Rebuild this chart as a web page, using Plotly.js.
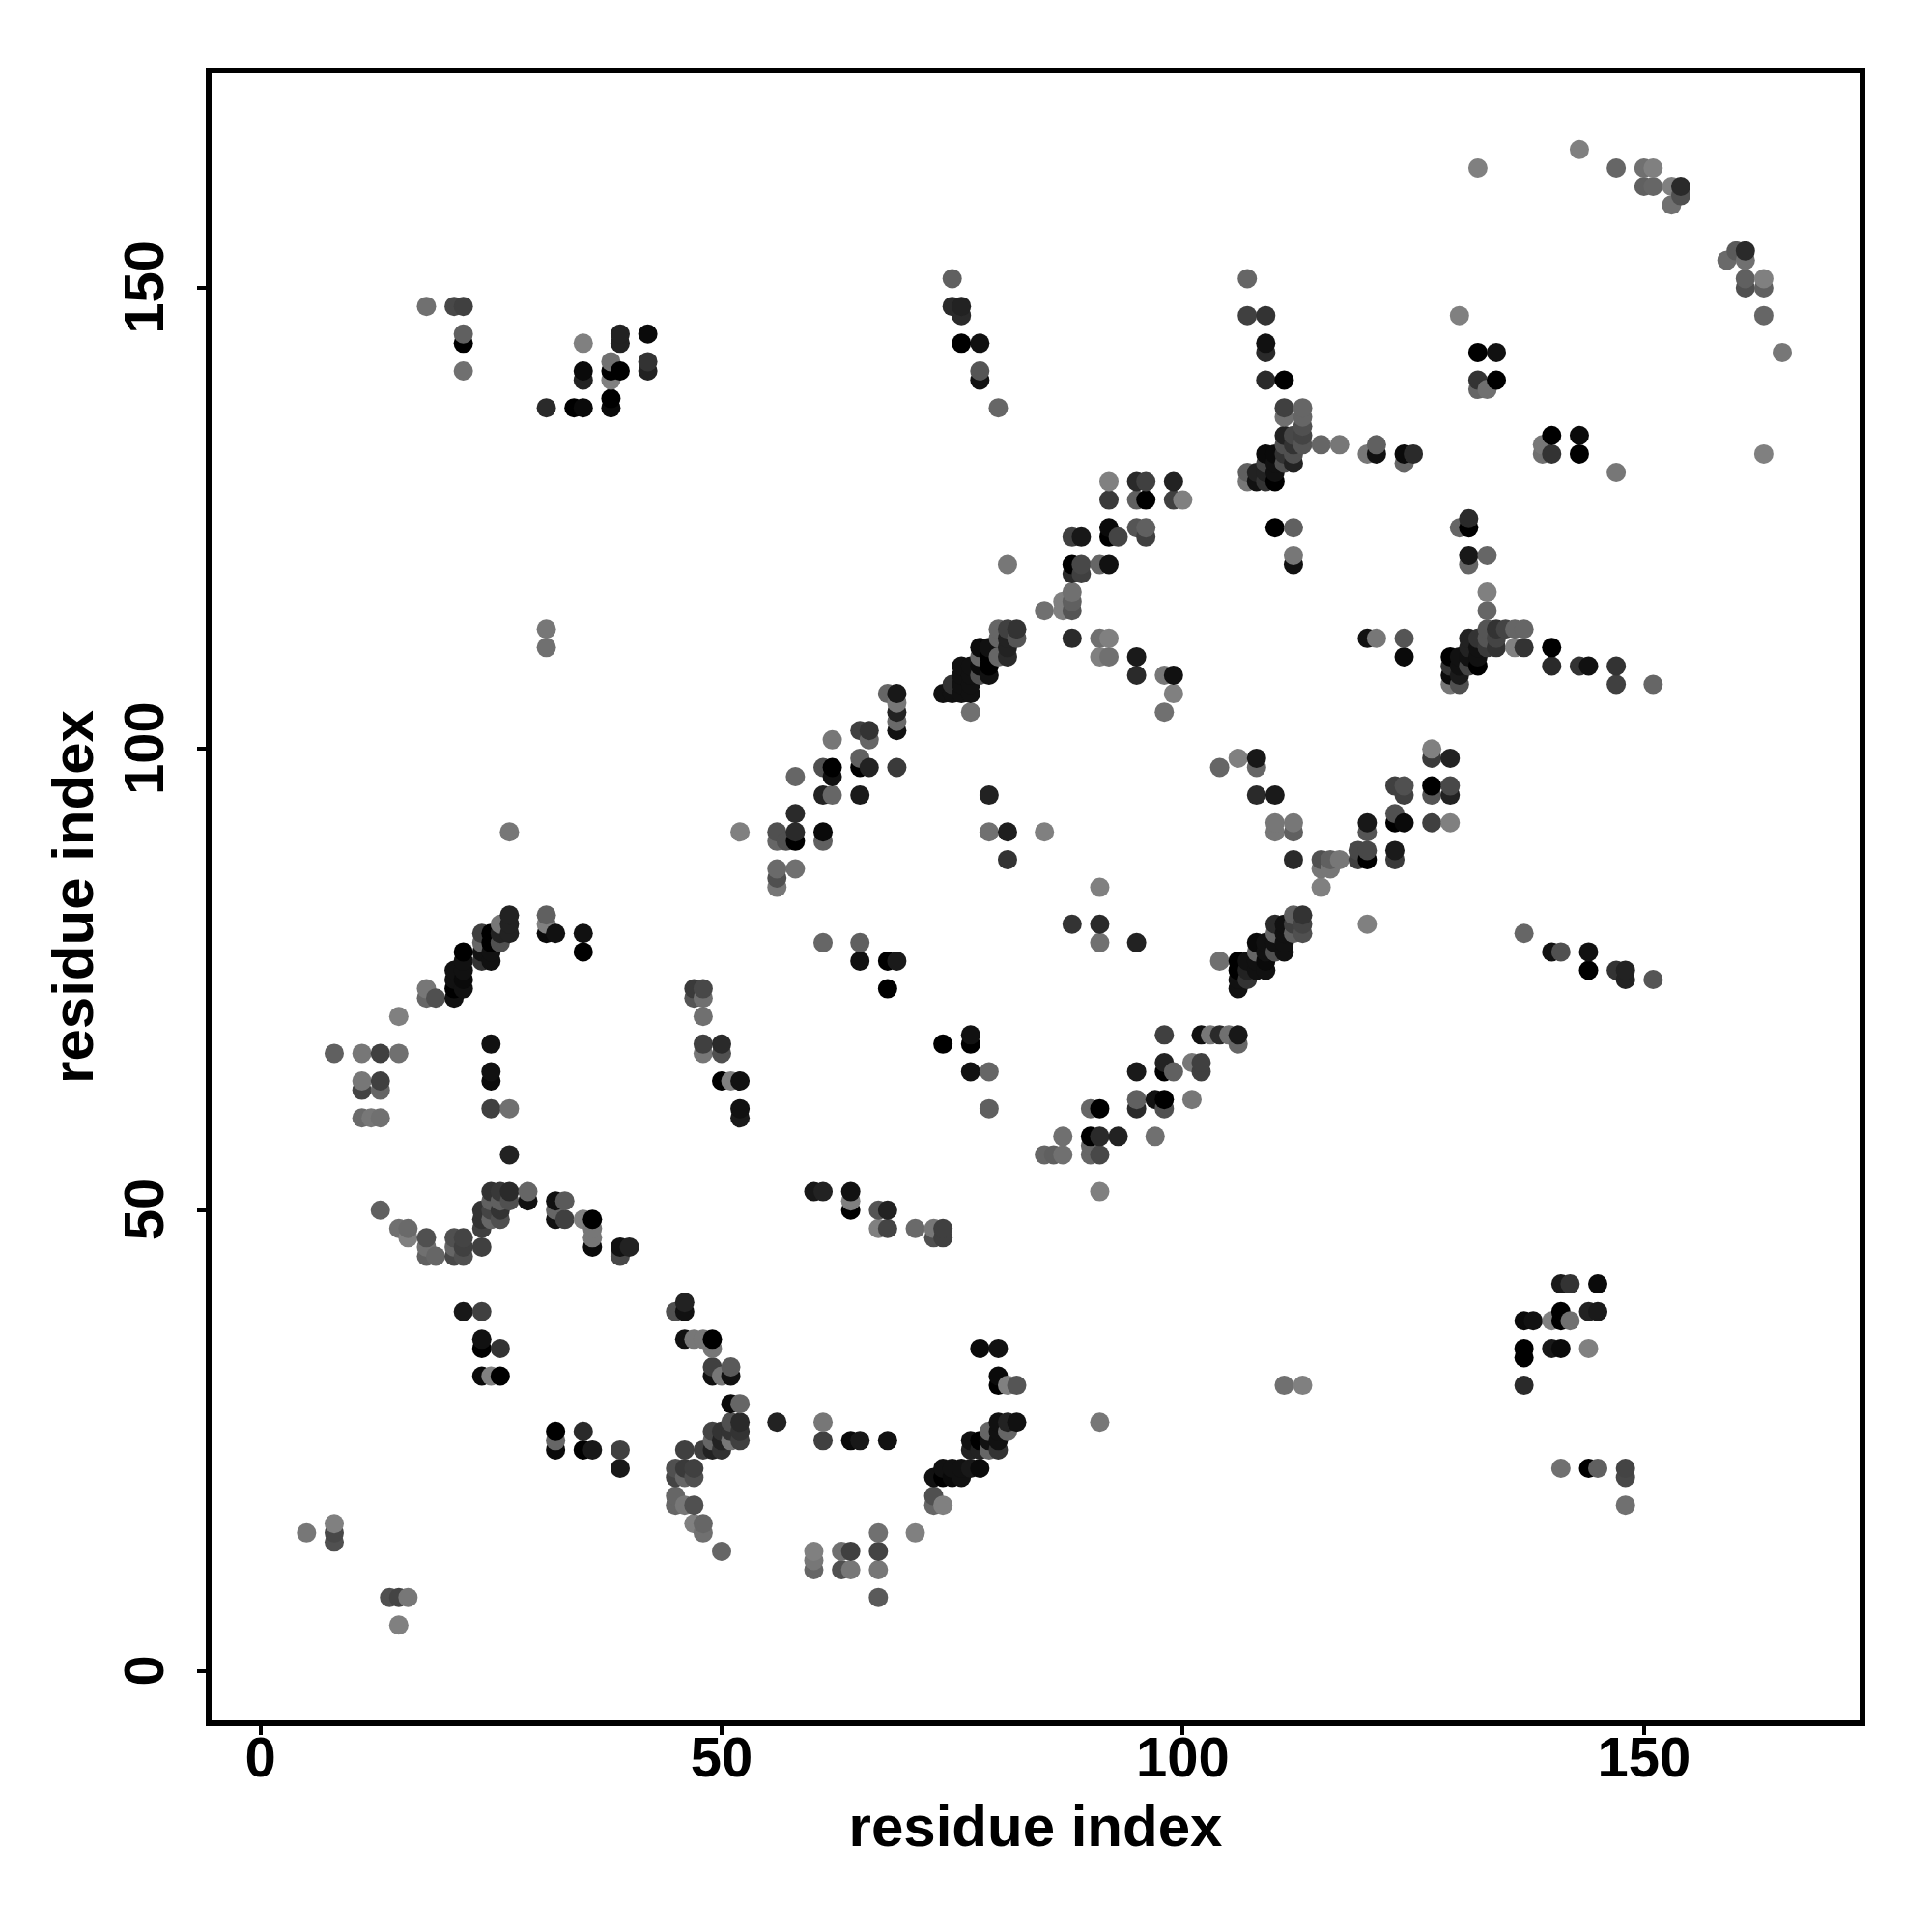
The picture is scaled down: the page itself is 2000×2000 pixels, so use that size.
<!DOCTYPE html>
<html>
<head>
<meta charset="utf-8">
<script src="https://cdn.plot.ly/plotly-3.0.1.min.js"></script>
<style>html,body{margin:0;padding:0;background:#fff}</style>
</head>
<body>
<div id="chart" style="width:2000px;height:2000px"></div>
<script>
// Each contact is [residue i, residue j, grey level of the dot]
const contactsLowLeft = [
[13,50,96],[15,48,112],[16,48,106],[16,47,128],[18,47,80],[18,46,112],[18,45,96],[19,45,102],
[21,47,80],[22,47,68],[21,46,102],[22,46,64],[21,45,72],[22,45,80],[24,46,64],[24,48,64],[24,49,51],[24,50,51],
[25,52,51],[26,52,56],[27,52,42],[25,51,96],[26,51,96],[27,51,80],[25,50,68],[26,50,51],[25,49,102],[26,49,80],
[29,52,102],[29,51,17],[32,51,17],[33,51,90],[32,50,102],[32,49,17],[33,49,64],[35,49,128],[36,49,0],[36,48,119],[36,47,119],[36,46,10],
[39,46,17],[40,46,34],[39,45,72],[27,56,34],
[22,39,24],[24,39,64],[24,36,17],[24,35,0],[26,35,51],[24,32,10],[25,32,128],[26,32,0],
[46,40,34],[45,39,80],[46,39,17],[46,36,17],[47,36,119],[48,36,119],[49,36,0],[49,35,119],
[49,33,64],[51,33,90],[49,32,17],[50,32,119],[51,32,17],[51,29,10],[52,29,102],[56,27,34],
[52,27,42],[51,27,80],[52,26,51],[51,26,51],[50,26,51],[49,26,68],[52,25,64],[51,25,119],[50,25,34],[49,25,102],
[48,24,64],[49,24,34],[50,24,51],[46,24,64],[45,22,80],[46,22,58],[47,22,64],[45,21,68],[46,21,102],[47,21,80],
[45,19,102],[45,18,102],[46,18,119],[47,18,80],[47,16,128],[48,16,102],[48,15,112],[50,13,102],
[5,15,119],[8,16,128],[8,15,72],[8,14,80],[14,8,80],[15,8,68],[16,8,119],[15,5,128],
[32,26,0],[32,25,102],[32,24,10],[35,26,42],[35,24,0],[36,24,24],[39,24,64],[39,22,24]
];
const contactsLowMiddle = [
[60,52,24],[61,52,34],[64,52,17],[64,51,128],[64,50,0],[67,50,85],[68,50,34],[67,48,128],[68,48,68],[71,48,106],
[73,48,119],[74,48,64],[73,47,80],[74,47,64],[91,52,128],
[61,27,119],[61,25,64],[64,25,10],[65,25,24],[68,25,17],[78,35,10],[80,35,17],[80,32,10],[80,31,0],[81,31,128],[82,31,85],
[91,27,119],[111,31,112],[113,31,128],
[80,27,17],[81,27,34],[82,27,17],[79,26,102],[80,26,17],[81,26,102],[77,25,17],[78,25,0],[79,25,17],[80,25,17],
[77,24,34],[78,24,34],[79,24,102],[80,24,51],[74,22,17],[75,22,17],[76,22,17],[77,22,24],[78,22,10],
[73,21,17],[74,21,0],[75,21,10],[76,21,17],[73,19,80],[73,18,102],[74,18,128],
[67,15,112],[71,15,128],[60,13,128],[63,13,112],[64,13,64],[67,13,68],[60,12,119],[60,11,102],[63,11,80],[64,11,119],[67,11,119],[67,8,90]
];
const contactsLowRight = [
[141,42,26],[142,42,51],[145,42,10],[141,39,0],[144,39,34],[145,39,26],[137,38,10],[138,38,17],[140,38,128],[141,38,0],[142,38,112],
[137,35,0],[137,34,0],[140,35,24],[141,35,10],[144,35,128],[137,31,42],[141,22,112],[144,22,0],[145,22,96],[148,22,68],[148,21,72],[148,18,112]
];
const contactsMidLeft = [
[31,113,119],[31,111,112],[27,91,119],[52,91,128],[56,91,80],[56,90,102],[57,90,80],[56,87,106],[56,86,80],[56,85,119],
[27,82,34],[27,81,34],[27,80,34],[26,81,119],[26,80,34],[26,79,80],[31,82,96],[31,81,128],[31,80,10],[32,80,17],[35,80,17],[35,78,0],
[24,80,64],[24,79,102],[24,78,17],[24,77,51],[25,80,0],[25,79,0],[25,78,17],[25,77,17],
[22,78,0],[22,77,17],[22,76,17],[22,75,10],[22,74,17],[21,76,17],[21,75,17],[21,74,0],[21,73,17],
[18,74,119],[18,73,102],[19,73,80],[15,71,128],[8,67,96],[11,67,119],[13,67,64],[15,67,112],
[11,64,119],[13,64,64],[11,63,68],[13,63,102],[11,60,106],[12,60,119],[13,60,112],
[25,68,17],[25,65,17],[25,64,10],[25,61,64],[27,61,112],
[47,74,58],[48,74,72],[47,73,85],[48,73,112],[48,71,112],[48,68,64],[50,68,42],[48,67,119],[50,67,80],
[50,64,0],[51,64,128],[52,64,17],[52,61,17],[52,60,26]
];
const contactsMidMiddle = [
[58,97,102],[61,98,80],[62,98,0],[62,97,17],[61,95,34],[62,95,102],[65,95,26],[65,99,96],[65,98,0],[66,98,34],[69,98,58],
[62,101,119],[65,102,64],[66,102,51],[66,101,102],[68,106,102],[69,106,24],[69,105,119],[69,104,34],[69,103,106],[69,102,17],
[58,93,42],[58,91,42],[58,90,0],[61,91,10],[61,90,96],[58,87,112],
[79,95,34],[79,91,112],[81,91,30],[85,91,128],[81,88,51],
[61,79,102],[65,79,96],[65,77,17],[68,77,0],[69,77,26],[68,74,0],[74,68,0],[77,69,17],[77,68,0],[77,65,17],[79,65,102],[79,61,96],
[88,112,42],[91,112,112],[92,112,128],[91,110,128],[92,110,112],[95,110,26],[95,108,42],[98,108,119],[99,108,17],[99,106,128],[98,104,112],[77,104,112],
[104,98,102],[106,99,128],[108,99,24],[108,98,102],[108,95,42],[110,95,26],[110,92,119],[112,92,119],[110,91,119],[112,91,96],[112,88,42],
[115,88,80],[116,88,96],[117,88,119],[115,87,119],[116,87,119],[115,85,128],[91,85,128],[88,81,51],[91,81,42],[91,79,112],[95,79,34],[104,77,112],
[82,113,51],[81,113,64],[80,113,102],[82,112,85],[81,112,34],[80,112,102],[81,111,34],[81,110,42],[80,110,102],
[79,111,17],[78,111,10],[79,110,0],[78,110,102],[79,109,0],[78,109,10],[79,108,17],[78,108,80],
[77,109,17],[76,109,17],[76,108,17],[77,108,17],[77,107,17],[76,107,17],[75,107,51],[77,106,17],[76,106,17],[75,106,17],[74,106,17],
[113,82,51],[112,82,96],[113,81,68],[113,80,80],[112,80,96],[112,81,64],[110,81,42],[111,81,17],[111,80,17],[110,80,102],[111,79,17],[110,79,17],[111,78,17],[110,78,80],
[108,79,10],[109,79,17],[108,78,102],[109,78,17],[108,77,17],[109,77,10],[108,76,17],[109,76,17],
[106,77,0],[107,77,17],[106,76,0],[107,76,34],[106,75,17],[107,75,51],[106,74,17],
[98,69,64],[102,69,17],[103,69,119],[104,69,42],[105,69,112],[106,69,24],[106,68,102],
[98,66,34],[98,65,0],[99,65,96],[95,65,26],[101,66,119],[102,66,64],[102,65,64],
[95,62,96],[95,61,42],[97,62,17],[98,62,0],[98,61,80],[101,62,119],[90,61,102],[91,61,0],
[87,58,112],[90,58,0],[91,58,42],[93,58,34],[97,58,112],[90,57,102],[90,56,102],[91,56,72],[85,56,102],[86,56,96],[87,56,112]
];
const contactsMidRight = [
[120,112,17],[121,112,119],[124,112,85],[124,110,10],[140,111,0],[140,109,42],[143,109,51],[144,109,17],[147,109,51],[147,107,64],[151,107,102],[136,111,128],[137,111,51],
[133,113,85],[134,113,51],[135,113,68],[136,113,102],[137,113,102],
[131,112,34],[132,112,51],[133,112,85],[134,112,68],[131,111,34],[132,111,17],[133,111,58],[134,111,51],
[129,110,0],[130,110,17],[131,110,17],[132,110,17],[129,109,51],[130,109,17],[131,109,68],[132,109,0],[129,108,10],[130,108,26],[129,107,119],[130,107,80],
[127,100,128],[127,99,58],[129,99,34],[123,96,64],[124,96,80],[124,95,64],[127,96,0],[129,96,72],[127,95,85],[129,95,34],
[123,93,80],[123,92,0],[124,92,10],[127,92,64],[129,92,128],[120,92,24],[120,91,85],
[119,89,72],[120,89,72],[119,88,64],[120,88,0],[123,89,26],[123,88,58],[120,81,128],
[137,80,102],[140,78,17],[141,78,80],[144,78,17],[144,76,0],[147,76,51],[148,76,34],[148,75,34],[151,75,85]
];
const contactsTopLeft = [
[18,148,112],[21,148,72],[22,148,64],[22,145,96],[22,144,0],[22,141,112],[35,144,128],[39,145,34],[39,144,34],[42,145,10],
[38,142,112],[42,142,51],[35,141,10],[38,141,0],[39,141,0],[42,141,34],[35,140,34],[38,140,128],[38,138,0],[38,137,10],[31,137,42],[34,137,0],[35,137,10]
];
const contactsTopMiddle = [
[75,151,96],[107,151,102],[75,148,42],[76,148,34],[76,147,42],[76,144,0],[78,144,17],[78,141,85],[78,140,17],[80,137,102],
[107,147,64],[109,147,51],[109,144,17],[109,143,42],[109,140,42],[111,140,0],
[111,137,64],[111,136,112],[113,137,102],[113,136,102],[113,135,80],[113,134,68],[113,133,85],[115,133,102],[117,133,119],
[111,134,34],[112,134,72],[111,133,80],[112,133,51],[111,132,51],[112,132,80],[112,131,34],[111,131,80],
[109,132,10],[110,132,10],[110,131,17],[109,131,68],[107,130,96],[108,130,34],[109,130,34],[110,130,17],[107,129,119],[108,129,17],[109,129,51],[110,129,0],
[92,129,128],[95,129,42],[96,129,64],[99,129,34],[92,127,58],[95,127,96],[96,127,0],[99,127,64],[100,127,128],
[92,124,10],[92,123,0],[93,123,68],[95,124,85],[96,124,96],[96,123,64],[88,123,64],[89,123,24],
[88,120,0],[89,120,72],[88,119,42],[89,119,64],[91,120,102],[92,120,17],[81,120,119],
[110,124,0],[112,124,96],[112,121,119],[112,120,17],[88,117,112],[88,116,96],[88,115,85],[87,116,128],[87,115,128],[85,115,112]
];
const contactsTopRight = [
[132,163,128],[143,165,128],[147,163,102],[150,163,112],[151,163,128],[150,161,96],[151,161,102],[153,161,128],[154,161,42],[154,160,80],[153,159,112],
[159,153,106],[160,154,90],[161,154,42],[161,153,112],[161,151,96],[161,150,80],[163,151,128],[163,150,96],[163,147,102],[165,143,119],
[130,147,128],[132,143,0],[134,143,17],[132,140,51],[134,140,0],[132,139,102],[133,139,112],
[140,134,0],[143,134,10],[139,133,119],[139,132,112],[140,132,51],[143,132,0],[147,130,119],[163,132,128],
[121,133,96],[120,132,119],[121,132,17],[124,132,10],[125,132,42],[124,131,102],
[130,124,102],[131,125,42],[131,124,0],[131,121,24],[131,120,102],[133,121,102],[133,117,128],[133,115,102]
];
const xTicks = [0, 50, 100, 150];
const yTicks = [0, 50, 100, 150];
const axisLabel = "residue index";

const contacts = [].concat(contactsLowLeft, contactsLowMiddle, contactsLowRight, contactsMidLeft,
  contactsMidMiddle, contactsMidRight, contactsTopLeft, contactsTopMiddle, contactsTopRight)
  .sort((a, b) => a[0] - b[0] || a[1] - b[1]);

const family = '"Liberation Sans", Arial, sans-serif';
const tickFont = {family: family, color: '#000', size: 58, weight: 700};
const titleFont = {family: family, color: '#000', size: 60, weight: 700};
const axisBase = {
  showgrid: false, zeroline: false, showline: true, mirror: true, linecolor: '#000', linewidth: 6,
  ticks: 'outside', ticklen: 9, tickwidth: 4, tickcolor: '#000', tickmode: 'array', tickfont: tickFont, automargin: false
};
Plotly.newPlot('chart', [{
  type: 'scatter', mode: 'markers',
  x: contacts.map(c => c[0]), y: contacts.map(c => c[1]),
  marker: {
    size: 20, color: contacts.map(c => c[2]), cmin: 0, cmax: 128,
    colorscale: [[0, 'rgb(0,0,0)'], [1, 'rgb(128,128,128)']], showscale: false, line: {width: 0}
  },
  hoverinfo: 'x+y'
}], {
  width: 2000, height: 2000, showlegend: false,
  paper_bgcolor: '#fff', plot_bgcolor: '#fff',
  margin: {l: 219, r: 75, t: 75.5, b: 219, pad: 0},
  xaxis: Object.assign({}, axisBase, {
    range: [-5.3, 173.38], tickvals: xTicks, ticktext: xTicks.map(String), ticklabelstandoff: -27,
    title: {text: axisLabel, font: titleFont, standoff: 21}
  }),
  yaxis: Object.assign({}, axisBase, {
    range: [-5.34, 173.26], tickvals: yTicks, ticktext: yTicks.map(String), tickangle: -90, ticklabelstandoff: 12,
    title: {text: axisLabel, font: titleFont, standoff: 2}
  })
}, {displayModeBar: false, staticPlot: true}).then(() => {
  // Centre the rotated y tick labels on their ticks
  document.querySelectorAll('.ytick text').forEach(t => {
    t.setAttribute('transform', 'translate(0,8) ' + (t.getAttribute('transform') || ''));
  });
});
</script>
</body>
</html>
